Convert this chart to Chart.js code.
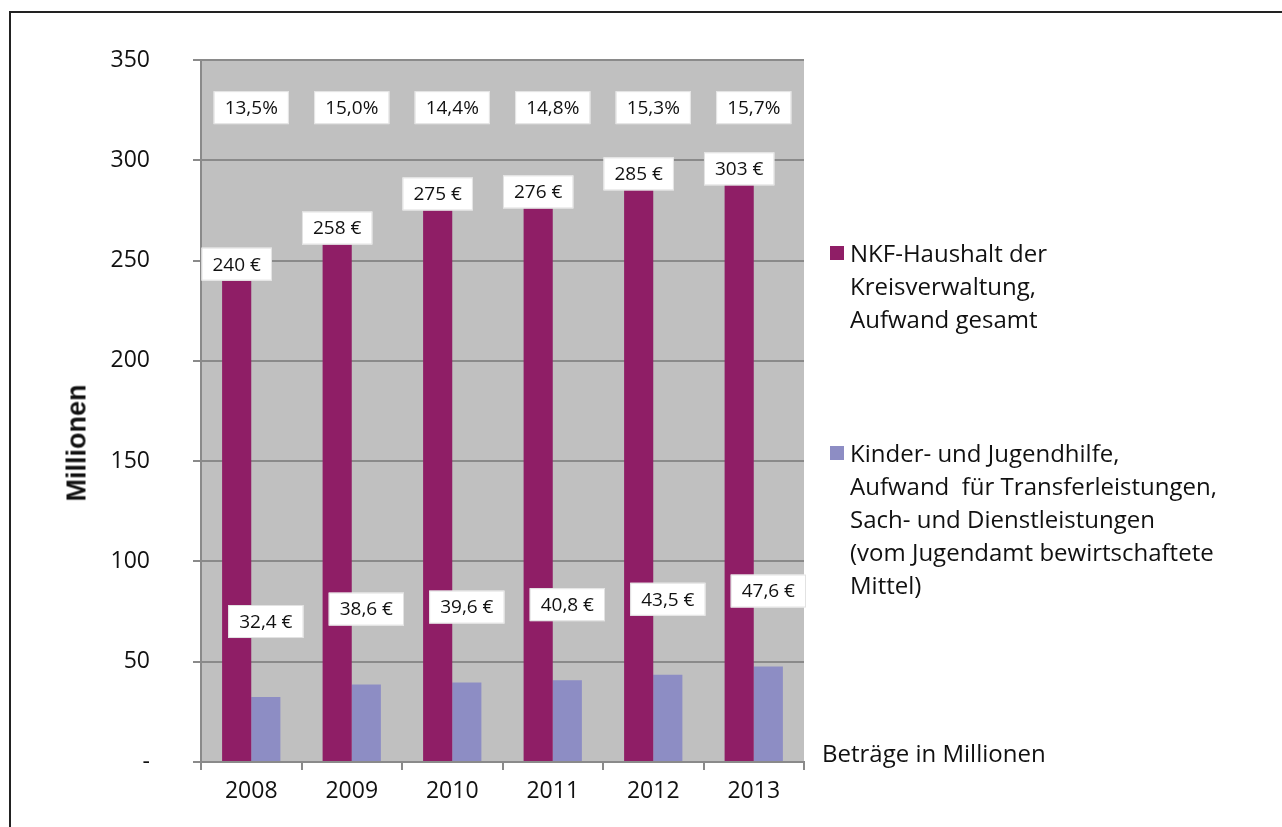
<!DOCTYPE html>
<html lang="de">
<head>
<meta charset="utf-8">
<title>NKF-Haushalt und Kinder- und Jugendhilfe 2008-2013</title>
<script src="https://cdn.jsdelivr.net/npm/chart.js@4.4.1/dist/chart.umd.min.js"></script>
<style>
  html, body { margin: 0; padding: 0; background: #fff; overflow: hidden; }
  body { width: 1282px; height: 827px; position: relative; font-family: "Open Sans", sans-serif; color: #111; }
  #frame { position: absolute; left: 9px; top: 11px; width: 1400px; height: 900px; border: 2px solid #222; box-sizing: border-box; }
  #wrap { position: absolute; left: 0; top: 0; width: 1282px; height: 827px; }
  .yTitle { position: absolute; left: 77px; top: 443px; transform: translate(-50%, -50%) rotate(-90deg);
    font-family: "Liberation Sans", Arial, sans-serif; font-weight: bold; font-size: 27px; white-space: nowrap; }
  .legend { position: absolute; left: 850px; font-size: 24px; line-height: 33px; white-space: pre; }
  .legend .box { position: absolute; left: -20px; top: 10px; width: 14px; height: 14px; }
  .note { position: absolute; left: 822px; top: 736px; font-size: 24px; line-height: 33px; white-space: nowrap; }
</style>
</head>
<body>
<div id="frame"></div>
<div id="wrap"><canvas id="budgetChart" width="1282" height="827"></canvas></div>
<div class="yTitle">Millionen</div>
<div class="legend" style="top: 236px;"><span class="box" style="background:#8F1E66"></span>NKF-Haushalt der
Kreisverwaltung,
Aufwand gesamt</div>
<div class="legend" style="top: 436px;"><span class="box" style="background:#8D8DC4"></span>Kinder- und Jugendhilfe,
Aufwand  für Transferleistungen,
Sach- und Dienstleistungen
(vom Jugendamt bewirtschaftete
Mittel)</div>
<div class="note">Beträge in Millionen</div>

<script>
const years = ["2008", "2009", "2010", "2011", "2012", "2013"];
// bar heights as drawn in the picture (the 2013 bar is drawn lower than its label says)
const totalBudget = [240, 258, 275, 276, 285, 287.5];
const totalText = ["240 €", "258 €", "275 €", "276 €", "285 €", "303 €"];
const youthWelfare = [32.4, 38.6, 39.6, 40.8, 43.5, 47.6];
const youthText = ["32,4 €", "38,6 €", "39,6 €", "40,8 €", "43,5 €", "47,6 €"];
const youthShare = ["13,5%", "15,0%", "14,4%", "14,8%", "15,3%", "15,7%"];
const yTicks = [0, 50, 100, 150, 200, 250, 300, 350];

const totalLabel = "NKF-Haushalt der Kreisverwaltung, Aufwand gesamt";
const youthLabel = "Kinder- und Jugendhilfe, Aufwand für Transferleistungen, Sach- und Dienstleistungen (vom Jugendamt bewirtschaftete Mittel)";

const maroon = "#8F1E66";
const lavender = "#8D8DC4";
const gridGray = "#8a8a8a";
const labelFont = "19px 'Open Sans', sans-serif";

function drawBox(ctx, text, cx, bottom) {
  const w = ctx.measureText(text).width + 22;
  const h = 33;
  ctx.fillStyle = "#fff";
  ctx.fillRect(cx - w / 2, bottom - h, w, h);
  ctx.strokeStyle = "#e2e2e2";
  ctx.lineWidth = 1;
  ctx.strokeRect(cx - w / 2 + 0.5, bottom - h + 0.5, w - 1, h - 1);
  ctx.fillStyle = "#111";
  ctx.fillText(text, cx, bottom - h / 2 + 1);
}

const plotBackground = {
  id: "plotBackground",
  beforeDraw(chart) {
    const { ctx, chartArea } = chart;
    ctx.save();
    ctx.fillStyle = "#C0C0C0";
    ctx.fillRect(chartArea.left, chartArea.top, chartArea.right - chartArea.left, chartArea.bottom - chartArea.top);
    ctx.restore();
  }
};

const valueBoxes = {
  id: "valueBoxes",
  afterDatasetsDraw(chart) {
    const ctx = chart.ctx;
    ctx.save();
    ctx.font = labelFont;
    ctx.textAlign = "center";
    ctx.textBaseline = "middle";

    // share row near the top of the plot
    const yShare = chart.scales.y.getPixelForValue(326);
    youthShare.forEach((text, i) => {
      drawBox(ctx, text, chart.scales.x.getPixelForValue(i), yShare + 16);
    });

    chart.getDatasetMeta(0).data.forEach((bar, i) => {
      drawBox(ctx, totalText[i], bar.x, bar.y);
    });

    chart.getDatasetMeta(1).data.forEach((bar, i) => {
      drawBox(ctx, youthText[i], bar.x, bar.y - 59);
    });
    ctx.restore();
  }
};

new Chart(document.getElementById("budgetChart"), {
  type: "bar",
  data: {
    labels: years,
    datasets: [
      {
        label: totalLabel,
        data: totalBudget,
        backgroundColor: maroon,
        barPercentage: 1,
        categoryPercentage: 0.58
      },
      {
        label: youthLabel,
        data: youthWelfare,
        backgroundColor: lavender,
        barPercentage: 1,
        categoryPercentage: 0.58
      }
    ]
  },
  options: {
    responsive: false,
    animation: false,
    layout: {
      padding: { left: 0, right: 478, top: 60, bottom: 0 }
    },
    plugins: {
      legend: { display: false },
      tooltip: { enabled: false }
    },
    scales: {
      x: {
        afterFit(scale) { scale.height = 65; },
        grid: {
          offset: true,
          drawOnChartArea: false,
          color: gridGray,
          lineWidth: 2,
          tickLength: 8
        },
        border: { color: gridGray, width: 2 },
        ticks: {
          color: "#111",
          padding: 8,
          font: { family: "'Open Sans', sans-serif", size: 23 }
        }
      },
      y: {
        min: yTicks[0],
        max: yTicks[yTicks.length - 1],
        afterFit(scale) { scale.width = 201; },
        afterBuildTicks(scale) { scale.ticks = yTicks.map((v) => ({ value: v })); },
        grid: {
          color: gridGray,
          lineWidth: 2,
          tickLength: 8
        },
        border: { color: gridGray, width: 2 },
        ticks: {
          color: "#111",
          padding: 43,
          font: { family: "'Open Sans', sans-serif", size: 23 },
          callback: (value) => (value === 0 ? "-" : value)
        }
      }
    }
  },
  plugins: [plotBackground, valueBoxes]
});
</script>
</body>
</html>
